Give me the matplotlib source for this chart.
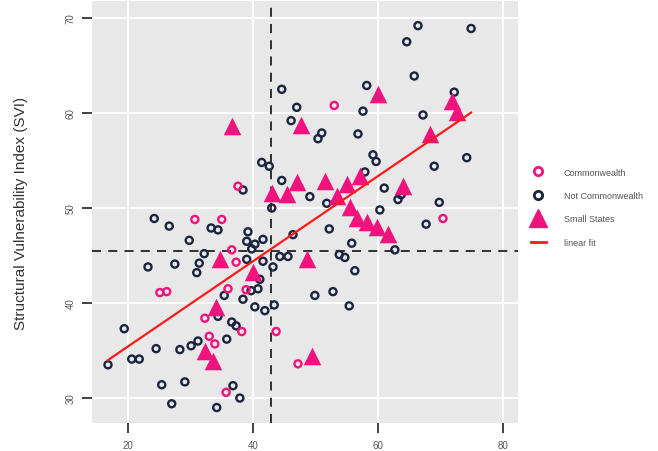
import numpy as np
import matplotlib.pyplot as plt
from matplotlib.lines import Line2D

plt.rcParams['font.family'] = ['Liberation Sans', 'DejaVu Sans']

# Not Commonwealth
nc_x = [66.4, 74.9, 64.6, 65.8, 72.2, 58.2, 57.6, 67.2, 44.6, 47.0, 46.1, 51.0,
        50.4, 56.8, 59.2, 59.7, 69.0, 74.2, 41.4, 42.6, 38.4, 44.6, 43.0, 49.1,
        51.8, 57.9, 61.0, 63.2, 63.7, 60.3, 69.8, 67.7, 52.2, 55.8, 46.4, 53.8,
        54.7, 62.7, 56.3, 44.3, 45.6, 43.2, 41.6, 24.2, 26.6, 33.3, 34.4, 29.8,
        32.2, 31.4, 31.0, 23.2, 27.5, 39.2, 39.0, 40.3, 41.6, 39.8, 39.0, 41.1,
        40.8, 39.7, 35.4, 38.4, 40.3, 41.9, 43.4, 49.9, 52.8, 55.4, 34.4, 36.6,
        37.3, 35.8, 19.4, 31.2, 30.1, 28.3, 24.5, 20.6, 21.8, 16.8, 25.4, 29.1,
        36.8, 37.9, 27.0, 34.2]
nc_svi = [69.2, 68.9, 67.5, 63.9, 62.2, 62.9, 60.2, 59.8, 62.5, 60.6, 59.2, 57.9,
          57.3, 57.8, 55.6, 54.9, 54.4, 55.3, 54.8, 54.4, 51.9, 52.9, 50.0, 51.2,
          50.5, 53.8, 52.1, 50.9, 51.4, 49.8, 50.6, 48.3, 47.8, 46.3, 47.2, 45.1,
          44.8, 45.6, 43.4, 44.9, 44.9, 43.8, 44.4, 48.9, 48.1, 47.9, 47.7, 46.6,
          45.2, 44.2, 43.2, 43.8, 44.1, 47.5, 46.5, 46.2, 46.7, 45.7, 44.6, 42.5,
          41.5, 41.3, 40.8, 40.4, 39.6, 39.2, 39.8, 40.8, 41.2, 39.7, 38.6, 38.0,
          37.6, 36.2, 37.3, 36.0, 35.5, 35.1, 35.2, 34.1, 34.1, 33.5, 31.4, 31.7,
          31.3, 30.0, 29.4, 29.0]

# Commonwealth
cw_x = [53.0, 37.6, 30.7, 35.0, 36.6, 37.3, 25.1, 26.2, 38.9, 36.0, 32.3, 38.2,
        43.7, 33.0, 33.9, 47.2, 35.7, 70.4]
cw_svi = [60.8, 52.3, 48.8, 48.8, 45.6, 44.3, 41.1, 41.2, 41.4, 41.5, 38.4, 37.0,
          37.0, 36.5, 35.7, 33.6, 30.6, 48.9]

# Small States
ss_x = [36.6, 47.7, 43.0, 45.4, 47.0, 51.5, 55.0, 57.1, 53.4, 55.5, 56.6, 58.2,
        59.8, 61.6, 60.0, 64.0, 68.3, 71.8, 72.6, 48.6, 34.7, 40.0, 34.1, 32.3,
        33.6, 49.4]
ss_svi = [58.6, 58.7, 51.6, 51.5, 52.7, 52.8, 52.5, 53.4, 51.3, 50.1, 48.9, 48.5,
          48.0, 47.3, 62.0, 52.3, 57.8, 61.3, 60.1, 44.6, 44.6, 43.3, 39.6, 35.0,
          33.9, 34.4]

mean_x = 42.9
mean_svi = 45.5

navy = '#1a2440'
pink = '#f0137e'

fig = plt.figure(figsize=(6.58, 4.52), dpi=100)
ax = fig.add_axes([0.1398, 0.0619, 0.6474, 0.9336])
ax.set_facecolor('#e8e8e8')
for s in ax.spines.values():
    s.set_visible(False)

ax.set_xlim(14.24, 82.4)
ax.set_ylim(27.37, 71.79)
ax.set_xticks([20, 40, 60, 80])
ax.set_yticks([30, 40, 50, 60, 70])
ax.grid(True, color='white', lw=1.4)
ax.set_axisbelow(True)
ax.tick_params(axis='both', length=7, width=1.3, color='#333333',
               labelsize=7, labelcolor='#555555', pad=5)
plt.setp(ax.get_yticklabels(), rotation=90, va='center')
ax.set_ylabel('Structural Vulnerability Index (SVI)', fontsize=11,
              color='#333333', labelpad=27)

ax.axvline(mean_x, color='#222222', lw=1.3, ls=(0, (5, 4)), zorder=1)
ax.axhline(mean_svi, color='#222222', lw=1.3, ls=(0, (5, 4)), zorder=1)

ax.scatter(nc_x, nc_svi, s=26, facecolors='none', edgecolors=navy, lw=1.7, zorder=2)
ax.scatter(cw_x, cw_svi, s=26, facecolors='none', edgecolors=pink, lw=1.7, zorder=3)
ax.scatter(ss_x, ss_svi, s=160, marker='^', color=pink, lw=0, zorder=4)

# linear fit over the pooled sample
all_x = np.array(nc_x + cw_x + ss_x)
all_y = np.array(nc_svi + cw_svi + ss_svi)
b, a = np.polyfit(all_x, all_y, 1)
xs = np.array([all_x.min(), all_x.max()])
ax.plot(xs, a + b * xs, color='#ff1a1a', lw=1.6, zorder=5)

handles = [
    Line2D([], [], ls='none', marker='o', ms=6, mfc='none', mec=pink, mew=2),
    Line2D([], [], ls='none', marker='o', ms=6, mfc='none', mec=navy, mew=2),
    Line2D([], [], ls='none', marker='^', ms=13, color=pink),
    Line2D([], [], color='#ff1a1a', lw=2),
]
labels = ['Commonwealth', 'Not Commonwealth', 'Small States', 'linear fit']
fig.legend(handles, labels, loc='upper left', bbox_to_anchor=(0.795, 0.645),
           frameon=False, fontsize=6.5, labelcolor='#555555', handlelength=1.6,
           labelspacing=1.6, handletextpad=2.0)

fig.savefig('out.png', dpi=100)
